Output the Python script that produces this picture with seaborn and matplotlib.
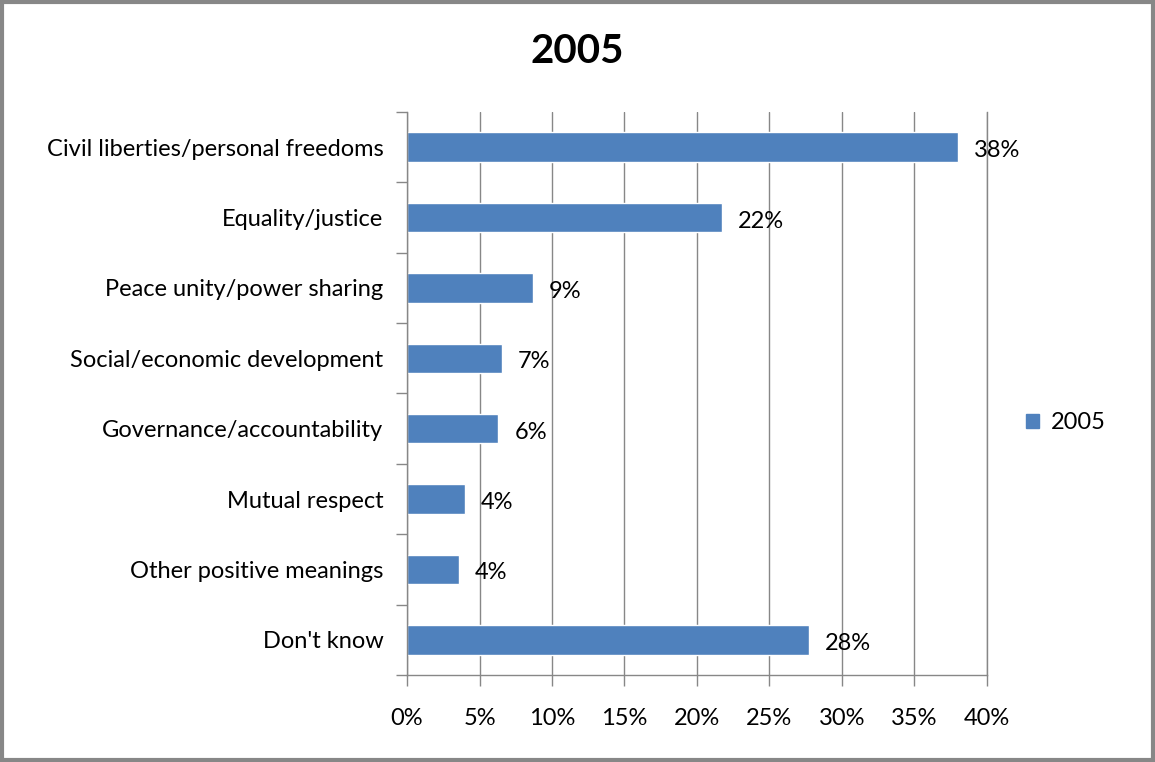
import matplotlib
matplotlib.use("Agg")
import matplotlib.pyplot as plt
import seaborn as sns
import pandas as pd
import numpy as np
from matplotlib.ticker import FixedLocator, PercentFormatter
from matplotlib.patches import Rectangle

categories = [
    "Civil liberties/personal freedoms",
    "Equality/justice",
    "Peace unity/power sharing",
    "Social/economic development",
    "Governance/accountability",
    "Mutual respect",
    "Other positive meanings",
    "Don't know",
]
values = [38.0, 21.7, 8.7, 6.55, 6.3, 4.0, 3.6, 27.7]
series_name = "2005"
x_ticks = [0, 5, 10, 15, 20, 25, 30, 35, 40]

bar_color = "#4F81BD"
grid_color = "#878787"

sns.set_theme(style="white")
plt.rcParams["font.family"] = ["Lato", "DejaVu Sans"]

df = pd.DataFrame({"category": categories, "value": values, "series": series_name})

fig = plt.figure(figsize=(11.55, 7.62), dpi=100)
ax = fig.add_axes([0.3524, 0.1142, 0.8545 - 0.3524, 0.853 - 0.1142])

sns.barplot(data=df, x="value", y="category", hue="series", palette=[bar_color],
            orient="h", width=0.42, ax=ax, legend=False, saturation=1)

ax.set_xlim(0, 40)
ax.set_ylim(len(categories) - 0.5, -0.5)
ax.xaxis.set_major_locator(FixedLocator(x_ticks))
ax.xaxis.set_major_formatter(PercentFormatter(decimals=0))
ax.set_xlabel("")
ax.set_ylabel("")

# vertical gridlines
ax.grid(axis="x", color=grid_color, linewidth=1.0)
ax.set_axisbelow(True)

ax.spines["top"].set_visible(False)
for side in ["left", "bottom", "right"]:
    ax.spines[side].set_color(grid_color)
    ax.spines[side].set_linewidth(1.0)

# category boundary ticks on the y axis
ax.yaxis.set_minor_locator(FixedLocator(np.arange(-0.5, len(categories), 1.0)))
ax.tick_params(axis="y", which="major", length=0, pad=17, labelsize=17, labelcolor="black")
ax.tick_params(axis="y", which="minor", left=True, right=False, length=8, width=1.0, color=grid_color)
ax.tick_params(axis="x", which="major", bottom=True, length=8, width=1.0, color=grid_color,
               pad=16, labelsize=17, labelcolor="black")

# value labels
for i, v in enumerate(values):
    ax.text(v + 1.1, i + 0.05, f"{v:.0f}%", va="center", ha="left", fontsize=17, color="black")

fig.text(0.5, 0.932, "2005", ha="center", va="center", fontsize=29, fontweight="bold", color="black")

# legend
handle = Rectangle((0, 0), 1, 1, color=bar_color)
fig.legend([handle], [series_name], loc="center left", bbox_to_anchor=(0.870, 0.445),
           frameon=False, fontsize=17, handlelength=0.55, handleheight=0.55, handletextpad=0.5,
           labelcolor="black")

# outer chart border
fig.patches.append(Rectangle((0.002, 0.003), 0.996, 0.994, transform=fig.transFigure,
                             fill=False, edgecolor="#878787", linewidth=3))

fig.savefig("out.png", dpi=100)
